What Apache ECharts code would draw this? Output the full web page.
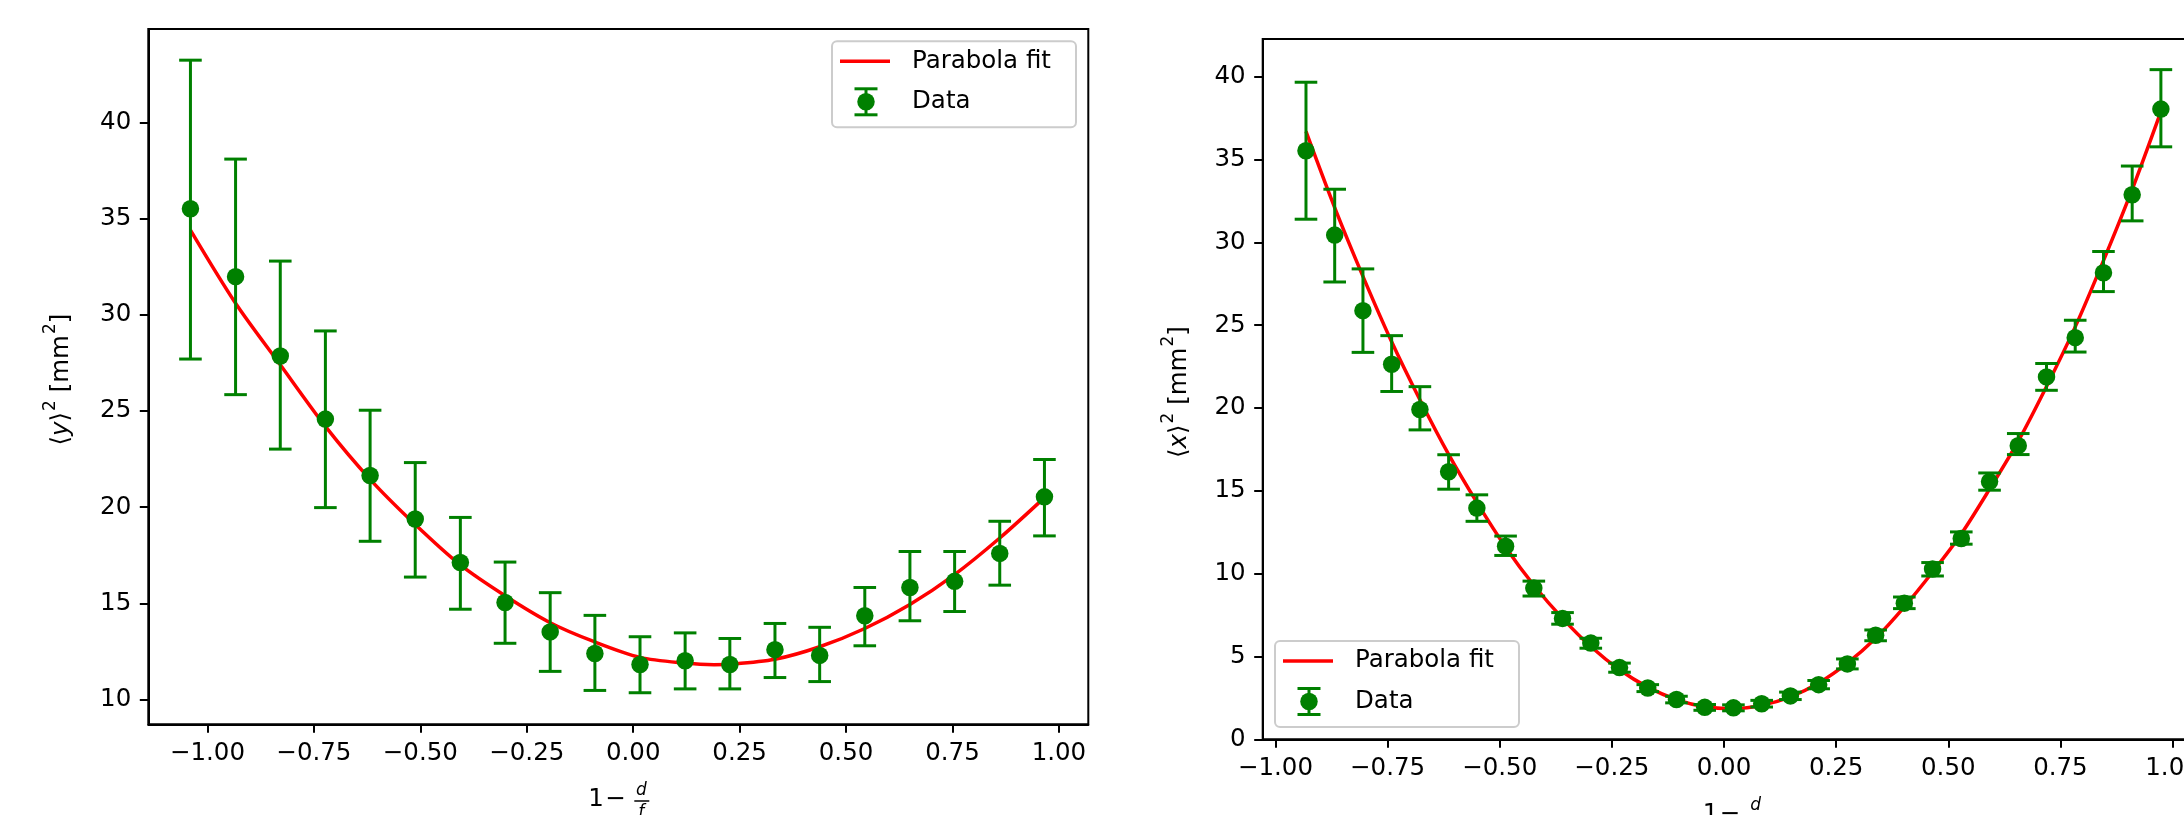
<!DOCTYPE html>
<html>
<head>
<meta charset="utf-8">
<script src="https://cdn.jsdelivr.net/npm/echarts@6/dist/echarts.min.js"></script>
<style>
html,body{margin:0;padding:0;background:#fff;}
#chart{width:2184px;height:815px;}
</style>
</head>
<body>
<div id="chart"></div>
<script>
// ---------------- data ----------------
// Left panel: <y>^2 vs 1 - d/f
const leftX = [-1.040, -0.934, -0.829, -0.723, -0.618, -0.512, -0.406, -0.301, -0.195, -0.090,
               0.016, 0.122, 0.227, 0.333, 0.438, 0.544, 0.650, 0.755, 0.861, 0.966];
const leftY = [35.51, 31.98, 27.86, 24.58, 21.65, 19.39, 17.13, 15.05, 13.52, 12.40,
               11.83, 12.02, 11.83, 12.60, 12.30, 14.36, 15.83, 16.15, 17.60, 20.54];
const leftLow = [27.70, 25.85, 23.02, 19.98, 18.23, 16.37, 14.70, 12.93, 11.47, 10.48,
                 10.36, 10.56, 10.56, 11.15, 10.94, 12.80, 14.10, 14.58, 15.95, 18.51];
const leftHigh = [43.23, 38.09, 32.79, 29.16, 25.04, 22.32, 19.47, 17.15, 15.56, 14.38,
                  13.27, 13.47, 13.18, 13.96, 13.76, 15.83, 17.70, 17.70, 19.27, 22.48];
const leftFitX = [-1.040, -0.934, -0.829, -0.723, -0.618, -0.512, -0.406, -0.301, -0.195, -0.090,
                  0.016, 0.122, 0.190, 0.227, 0.333, 0.438, 0.544, 0.650, 0.755, 0.861, 0.966];
const leftFitY = [34.4, 30.6, 27.4, 24.2, 21.45, 19.1, 17.0, 15.4, 14.0, 13.0,
                  12.2, 11.9, 11.82, 11.84, 12.1, 12.75, 13.7, 14.95, 16.5, 18.4, 20.5];

// Right panel: <x>^2 vs 1 - d/f
const rightX = [-0.932, -0.868, -0.805, -0.741, -0.678, -0.614, -0.551, -0.487, -0.424, -0.360,
                -0.297, -0.233, -0.170, -0.106, -0.043, 0.021, 0.084, 0.148, 0.211, 0.275,
                0.338, 0.402, 0.465, 0.529, 0.592, 0.656, 0.719, 0.783, 0.846, 0.910, 0.974];
const rightY = [35.53, 30.44, 25.88, 22.64, 19.91, 16.15, 13.96, 11.66, 9.13, 7.30,
                5.81, 4.33, 3.10, 2.40, 1.93, 1.90, 2.15, 2.62, 3.30, 4.55,
                6.28, 8.22, 10.28, 12.12, 15.56, 17.73, 21.88, 24.25, 28.17, 32.88, 38.05];
const rightLow = [31.40, 27.61, 23.36, 21.00, 18.68, 15.10, 13.16, 11.10, 8.65, 6.95,
                  5.50, 4.05, 2.88, 2.20, 1.75, 1.72, 1.95, 2.40, 3.05, 4.25,
                  5.95, 7.89, 9.86, 11.78, 15.04, 17.19, 21.07, 23.38, 27.03, 31.30, 35.77];
const rightHigh = [39.67, 33.21, 28.40, 24.37, 21.29, 17.18, 14.76, 12.27, 9.55, 7.65,
                   6.10, 4.60, 3.30, 2.60, 2.10, 2.08, 2.35, 2.85, 3.55, 4.85,
                   6.60, 8.59, 10.67, 12.52, 16.08, 18.46, 22.69, 25.30, 29.45, 34.61, 40.43];
const rightFitX = [-0.932, -0.868, -0.805, -0.741, -0.678, -0.614, -0.551, -0.487, -0.424, -0.360,
                   -0.297, -0.233, -0.170, -0.106, -0.043, 0.021, 0.084, 0.148, 0.211, 0.275,
                   0.338, 0.402, 0.465, 0.529, 0.592, 0.656, 0.719, 0.783, 0.846, 0.910, 0.974];
const rightFitY = [36.7, 32.1, 27.95, 24.0, 20.5, 17.2, 14.3, 11.6, 9.3, 7.3,
                   5.6, 4.2, 3.15, 2.4, 1.97, 1.86, 2.05, 2.56, 3.4, 4.6,
                   6.1, 8.0, 10.1, 12.4, 15.1, 18.0, 21.3, 24.9, 28.9, 33.2, 37.9];

// tick labels
const xTicks = [-1.00, -0.75, -0.50, -0.25, 0.00, 0.25, 0.50, 0.75, 1.00];
const leftYTicks = [10, 15, 20, 25, 30, 35, 40];
const rightYTicks = [0, 5, 10, 15, 20, 25, 30, 35, 40];

const seriesNames = ['Parabola fit', 'Data'];
const yLabelLeft = 'y';
const yLabelRight = 'x';

// ---------------- layout / style ----------------
const FONT = "'DejaVu Sans', 'Liberation Sans', sans-serif";
const FS = 24.5;
const GREEN = '#008000';
const RED = '#ff0000';
const L = {left: 148.3, top: 29, width: 940, height: 695.3};
const R = {left: 1262.7, top: 39, width: 940.8, height: 700.3};
const LX = [-1.139, 1.069], LY = [8.72, 44.85];
const RX = [-1.0285, 1.069], RY = [0, 42.28];

function fmtX(v) {
  return (v < -1e-9 ? '\u2212' : '') + Math.abs(v).toFixed(2);
}

function xAxisDef(gridIndex, range) {
  return {
    type: 'value', gridIndex: gridIndex, min: range[0], max: range[1],
    splitLine: {show: false},
    axisLine: {show: true, onZero: false, lineStyle: {color: '#000', width: 2}},
    axisTick: {show: true, customValues: xTicks, length: 8.5, lineStyle: {color: '#000', width: 2}},
    axisLabel: {customValues: xTicks, formatter: fmtX, margin: 17, fontSize: FS,
                fontFamily: FONT, color: '#000'}
  };
}
function yAxisDef(gridIndex, range, ticks) {
  return {
    type: 'value', gridIndex: gridIndex, min: range[0], max: range[1],
    splitLine: {show: false},
    axisLine: {show: true, onZero: false, lineStyle: {color: '#000', width: 2}},
    axisTick: {show: true, customValues: ticks, length: 8.5, lineStyle: {color: '#000', width: 2}},
    axisLabel: {customValues: ticks, formatter: v => String(Math.round(v)), margin: 17,
                fontSize: FS, fontFamily: FONT, color: '#000'}
  };
}

function zip2(a, b) { return a.map((v, i) => [v, b[i]]); }
function zip3(a, b, c) { return a.map((v, i) => [v, b[i], c[i]]); }

function errRender(params, api) {
  const x = api.value(0), lo = api.value(1), hi = api.value(2);
  const pTop = api.coord([x, hi]);
  const pBot = api.coord([x, lo]);
  const cw = 11.3;
  const st = {stroke: GREEN, lineWidth: 3, fill: null};
  return {
    type: 'group',
    children: [
      {type: 'line', shape: {x1: pTop[0], y1: pTop[1], x2: pBot[0], y2: pBot[1]}, style: st},
      {type: 'line', shape: {x1: pTop[0] - cw, y1: pTop[1], x2: pTop[0] + cw, y2: pTop[1]}, style: st},
      {type: 'line', shape: {x1: pBot[0] - cw, y1: pBot[1], x2: pBot[0] + cw, y2: pBot[1]}, style: st}
    ]
  };
}

function panelSeries(idx, fx, fy, dx, dy, lo, hi) {
  return [
    {
      name: seriesNames[0], type: 'line', xAxisIndex: idx, yAxisIndex: idx,
      data: zip2(fx, fy), smooth: 0.3, symbol: 'none', showSymbol: false,
      lineStyle: {color: RED, width: 3.5}, z: 2, silent: true
    },
    {
      name: seriesNames[1], type: 'custom', xAxisIndex: idx, yAxisIndex: idx,
      data: zip3(dx, lo, hi), encode: {x: 0, y: [1, 2]}, renderItem: errRender, z: 3, silent: true
    },
    {
      name: seriesNames[1], type: 'scatter', xAxisIndex: idx, yAxisIndex: idx,
      data: zip2(dx, dy), symbol: 'circle', symbolSize: 17.5,
      itemStyle: {color: GREEN, opacity: 1}, z: 4, silent: true
    }
  ];
}

// ---- legend drawn as graphic (matplotlib style box) ----
function legendGroup(bx, by) {
  const w = 244, h = 86;
  return {
    type: 'group', x: bx, y: by, z: 100,
    children: [
      {type: 'rect', shape: {x: 0, y: 0, width: w, height: h, r: 5},
       style: {fill: 'rgba(255,255,255,0.8)', stroke: '#cccccc', lineWidth: 2}},
      {type: 'line', shape: {x1: 8, y1: 20, x2: 58, y2: 20}, style: {stroke: RED, lineWidth: 3.5}},
      {type: 'text', x: 80, y: 20, style: {text: seriesNames[0], font: FS + 'px ' + FONT,
        fill: '#000', align: 'left', verticalAlign: 'middle'}},
      {type: 'line', shape: {x1: 34, y1: 47.5, x2: 34, y2: 73.5}, style: {stroke: GREEN, lineWidth: 3}},
      {type: 'line', shape: {x1: 22.5, y1: 47.5, x2: 45.5, y2: 47.5}, style: {stroke: GREEN, lineWidth: 3}},
      {type: 'line', shape: {x1: 22.5, y1: 73.5, x2: 45.5, y2: 73.5}, style: {stroke: GREEN, lineWidth: 3}},
      {type: 'circle', shape: {cx: 34, cy: 60.5, r: 8.75}, style: {fill: GREEN}},
      {type: 'text', x: 80, y: 60.5, style: {text: seriesNames[1], font: FS + 'px ' + FONT,
        fill: '#000', align: 'left', verticalAlign: 'middle'}}
    ]
  };
}

// ---- y axis label  <v>^2 [mm^2] ----
function yLabel(cx, cy, v) {
  return {
    type: 'text', x: cx, y: cy, rotation: Math.PI / 2, z: 50,
    style: {
      text: '{n|\u27E8}{i|' + v + '}{n|\u27E9}{s|2}{n| [mm}{s|2}{n|]}',
      align: 'center', verticalAlign: 'middle',
      rich: {
        n: {fontSize: FS, fontFamily: FONT, fill: '#000', lineHeight: 32, verticalAlign: 'bottom'},
        i: {fontSize: FS, fontFamily: FONT, fontStyle: 'italic', fill: '#000', lineHeight: 32, verticalAlign: 'bottom'},
        s: {fontSize: 17, fontFamily: FONT, fill: '#000', lineHeight: 32, verticalAlign: 'top', padding: [0, 0, 0, 1]}
      }
    }
  };
}

// ---- x axis label  1 - d/f ----
function xLabel(x0, yc) {
  const f17 = '17px ' + FONT;
  return {
    type: 'group', x: x0, y: yc, z: 50,
    children: [
      {type: 'text', x: 0, y: 0, style: {text: '1', font: FS + 'px ' + FONT, fill: '#000',
        align: 'left', verticalAlign: 'middle'}},
      {type: 'text', x: 17, y: 0, style: {text: '\u2212', font: FS + 'px ' + FONT, fill: '#000',
        align: 'left', verticalAlign: 'middle'}},
      {type: 'text', x: 53, y: -9, style: {text: 'd', font: 'italic ' + f17, fill: '#000',
        align: 'center', verticalAlign: 'middle'}},
      {type: 'line', shape: {x1: 46, y1: 1.5, x2: 61, y2: 1.5}, style: {stroke: '#000', lineWidth: 1.5}},
      {type: 'text', x: 53, y: 13, style: {text: 'f', font: 'italic ' + f17, fill: '#000',
        align: 'center', verticalAlign: 'middle'}}
    ]
  };
}

const chart = echarts.init(document.getElementById('chart'), null, {renderer: 'canvas'});
const option = {
  animation: false,
  backgroundColor: '#ffffff',
  grid: [
    {left: L.left, top: L.top, width: L.width, height: L.height, show: true,
     borderColor: '#000', borderWidth: 2, backgroundColor: 'transparent', containLabel: false,
     outerBoundsMode: 'none'},
    {left: R.left, top: R.top, width: R.width, height: R.height, show: true,
     borderColor: '#000', borderWidth: 2, backgroundColor: 'transparent', containLabel: false,
     outerBoundsMode: 'none'}
  ],
  xAxis: [xAxisDef(0, LX), xAxisDef(1, RX)],
  yAxis: [yAxisDef(0, LY, leftYTicks), yAxisDef(1, RY, rightYTicks)],
  series: [].concat(
    panelSeries(0, leftFitX, leftFitY, leftX, leftY, leftLow, leftHigh),
    panelSeries(1, rightFitX, rightFitY, rightX, rightY, rightLow, rightHigh)
  ),
  graphic: [
    legendGroup(L.left + L.width - 12.3 - 244, L.top + 12.3),
    legendGroup(R.left + 12.3, R.top + R.height - 12.3 - 86),
    yLabel(L.left - 90, L.top + L.height / 2 + 3, yLabelLeft),
    yLabel(R.left - 87, R.top + R.height / 2 + 3, yLabelRight),
    xLabel(L.left + 440, 799.5),
    xLabel(R.left + 440, 814.5)
  ]
};
chart.setOption(option);
</script>
</body>
</html>
